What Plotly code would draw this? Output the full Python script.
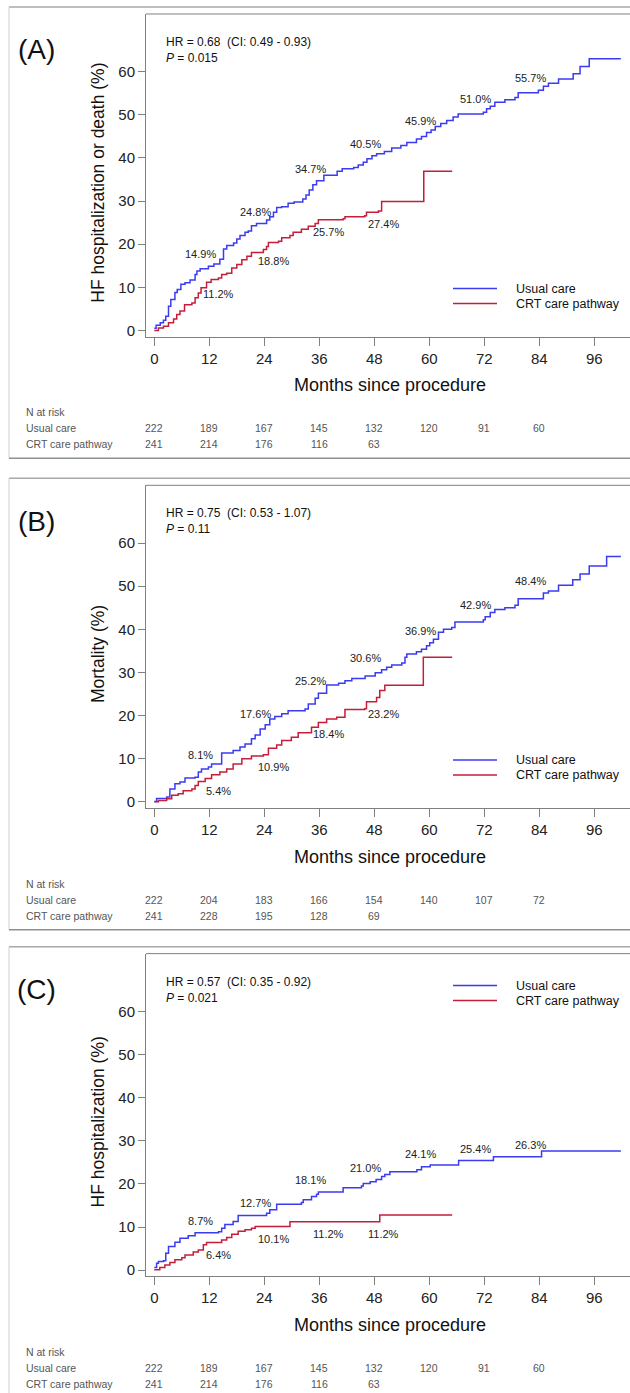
import plotly.graph_objects as go

W, H = 630, 1393

# ---------------- DATA ----------------
month_ticks = [0, 12, 24, 36, 48, 60, 72, 84, 96]
y_ticks = [0, 10, 20, 30, 40, 50, 60]
series_names = ["Usual care", "CRT care pathway"]
panel_letters = ["(A)", "(B)", "(C)"]
y_titles = ["HF hospitalization or death (%)", "Mortality (%)", "HF hospitalization (%)"]
hr_texts = ["HR = 0.68  (CI: 0.49 - 0.93)", "HR = 0.75  (CI: 0.53 - 1.07)", "HR = 0.57  (CI: 0.35 - 0.92)"]
p_texts = ["0.015", "0.11", "0.021"]

# Panel A: HF hospitalization or death
a_usual_t = [0, 0.4, 1.3, 2.0, 2.5, 3.1, 3.6, 4.5, 5.0, 5.8, 6.7, 7.8, 8.9, 9.3, 10.0, 11.8, 13.0, 14.3, 15.1,
             15.8, 17.3, 18.0, 18.7, 19.8, 20.5, 21.2, 22.3, 24.5, 25.2, 26.0, 26.7, 27.8, 29.2, 30.5, 32.4, 33.1,
             33.8, 34.6, 35.4, 37.0, 39.9, 41.0, 43.5, 44.5, 45.6, 46.4, 47.5, 48.5, 50.2, 51.8, 53.8, 55.1, 57.2,
             58.3, 59.4, 60.4, 61.3, 62.5, 63.8, 65.2, 66.3, 71.8, 72.5, 73.3, 74.3, 76.5, 78.7, 79.4, 83.8, 84.9,
             86.0, 88.2, 91.4, 92.9, 94.9, 101.8]
a_usual_v = [0.5, 1.2, 1.8, 2.4, 3.3, 5.6, 7.2, 8.8, 9.5, 10.7, 11.1, 11.7, 13.0, 13.8, 14.3, 14.9, 15.4, 16.5, 18.9,
             19.7, 20.3, 21.2, 22.0, 22.8, 23.1, 24.3, 24.8, 25.6, 26.4, 27.4, 28.5, 28.7, 29.5, 29.8, 30.5, 31.4,
             32.6, 33.8, 34.7, 36.0, 36.9, 37.5, 37.8, 38.4, 39.0, 39.8, 40.5, 41.0, 41.5, 42.3, 42.9, 43.6, 44.4,
             45.0, 45.9, 46.5, 47.3, 48.0, 48.7, 49.5, 50.2, 50.6, 51.4, 52.0, 52.9, 53.5, 54.0, 55.1, 55.7, 56.6,
             57.3, 58.3, 59.5, 61.2, 63.0, 63.0]
a_crt_t = [0, 0.9, 2.0, 3.1, 4.2, 4.9, 5.6, 6.6, 8.2, 8.9, 9.6, 10.2, 11.4, 12.4, 14.0, 14.7, 15.8, 16.9, 18.0,
           19.1, 20.2, 21.2, 23.8, 24.5, 24.9, 27.1, 27.8, 29.6, 30.3, 32.1, 33.6, 35.1, 35.8, 41.2, 41.6, 45.9,
           46.3, 48.9, 49.6, 58.8, 65.0]
a_crt_v = [0.0, 0.6, 1.0, 1.8, 2.7, 3.7, 4.5, 6.0, 6.4, 7.6, 8.7, 9.9, 11.2, 11.8, 12.2, 13.0, 13.3, 14.5, 15.3,
           16.4, 17.2, 18.1, 18.8, 19.5, 20.4, 20.7, 21.5, 22.0, 22.8, 23.5, 24.2, 24.8, 25.7, 25.9, 26.4, 26.6,
           27.4, 27.7, 29.9, 36.9, 36.9]
a_usual_lab_t = [12, 24, 36, 48, 60, 72, 84]
a_usual_lab = [14.9, 24.8, 34.7, 40.5, 45.9, 51.0, 55.7]
a_crt_lab_t = [12, 24, 36, 48]
a_crt_lab = [11.2, 18.8, 25.7, 27.4]
a_risk_usual = [222, 189, 167, 145, 132, 120, 91, 60]
a_risk_crt = [241, 214, 176, 116, 63]

# Panel B: Mortality
b_usual_t = [0, 0.5, 2.7, 3.4, 4.5, 5.6, 6.7, 8.9, 9.6, 10.3, 11.8, 12.5, 14.7, 17.2, 18.7, 19.8, 21.2, 22.0,
             23.1, 24.2, 25.2, 26.3, 27.8, 29.2, 32.9, 33.6, 35.1, 35.8, 37.6, 40.2, 41.6, 43.1, 46.0, 48.2, 49.6,
             50.7, 51.8, 54.0, 54.7, 55.1, 57.2, 58.3, 59.4, 60.1, 60.9, 62.0, 63.1, 64.9, 65.6, 71.8, 72.2, 73.3,
             74.3, 76.5, 78.7, 79.4, 84.9, 86.0, 88.2, 91.3, 92.9, 94.9, 98.7, 101.8]
b_usual_v = [0.1, 0.8, 1.1, 3.0, 4.2, 4.6, 5.5, 5.7, 6.9, 7.6, 8.1, 8.8, 11.3, 11.9, 12.7, 13.4, 14.6, 15.5,
             16.9, 17.9, 19.2, 19.8, 20.4, 21.1, 21.5, 22.7, 24.0, 25.2, 27.1, 27.5, 28.1, 28.6, 29.2, 29.9, 30.6,
             31.2, 31.7, 32.2, 33.5, 34.3, 34.8, 35.4, 36.2, 36.9, 37.7, 39.3, 40.0, 40.4, 41.7, 42.2, 42.9, 43.9,
             44.6, 45.0, 45.6, 47.1, 48.4, 48.9, 50.2, 51.5, 52.8, 54.7, 56.9, 56.9]
b_crt_t = [0, 0.9, 2.7, 3.8, 5.2, 6.3, 8.2, 8.9, 9.6, 11.1, 12.5, 14.3, 15.8, 17.2, 19.1, 21.2, 23.8, 24.9, 26.7,
           27.8, 29.9, 31.4, 34.3, 35.8, 37.6, 39.8, 41.6, 45.9, 46.3, 48.5, 49.2, 50.3, 58.7, 65.0]
b_crt_v = [0.0, 0.3, 0.7, 1.5, 1.9, 2.6, 3.0, 3.8, 4.7, 5.4, 6.3, 6.9, 7.6, 8.8, 10.0, 10.6, 10.9, 12.4, 13.2,
           14.2, 15.0, 16.0, 17.3, 18.4, 19.2, 19.6, 21.4, 21.6, 23.2, 24.2, 25.8, 27.0, 33.5, 33.5]
b_usual_lab_t = [12, 24, 36, 48, 60, 72, 84]
b_usual_lab = [8.1, 17.6, 25.2, 30.6, 36.9, 42.9, 48.4]
b_crt_lab_t = [12, 24, 36, 48]
b_crt_lab = [5.4, 10.9, 18.4, 23.2]
b_risk_usual = [222, 204, 183, 166, 154, 140, 107, 72]
b_risk_crt = [241, 228, 195, 128, 69]

# Panel C: HF hospitalization
c_usual_t = [0, 0.5, 0.9, 2.0, 2.5, 3.1, 4.5, 5.6, 7.4, 8.9, 14.0, 14.7, 15.4, 17.2, 18.3, 24.5, 25.2, 26.7, 32.1,
             32.5, 34.3, 35.4, 35.8, 41.2, 45.2, 45.6, 47.1, 48.4, 49.6, 50.3, 51.4, 57.3, 58.3, 60.2, 66.4, 74.0,
             84.5, 101.8]
c_usual_v = [0.6, 1.6, 2.0, 2.2, 3.9, 5.5, 6.5, 7.4, 8.0, 8.7, 8.9, 9.7, 10.6, 11.3, 12.7, 13.2, 14.0, 15.3, 15.7,
             16.3, 17.1, 17.6, 18.1, 19.1, 19.5, 20.1, 20.5, 21.0, 21.7, 22.2, 22.8, 23.3, 24.0, 24.4, 25.4, 26.3,
             27.6, 27.6]
c_crt_t = [0, 1.2, 2.3, 3.4, 4.5, 6.0, 6.7, 8.5, 9.6, 10.7, 11.4, 14.7, 15.8, 16.9, 18.3, 19.8, 21.2, 22.0, 29.6,
           49.2, 65.0]
c_crt_v = [0.1, 0.6, 1.2, 1.8, 2.4, 2.9, 3.5, 4.2, 4.7, 5.9, 6.4, 7.0, 7.6, 8.3, 9.0, 9.4, 9.7, 10.1, 11.2,
           12.8, 12.8]
c_usual_lab_t = [12, 24, 36, 48, 60, 72, 84]
c_usual_lab = [8.7, 12.7, 18.1, 21.0, 24.1, 25.4, 26.3]
c_crt_lab_t = [12, 24, 36, 48]
c_crt_lab = [6.4, 10.1, 11.2, 11.2]
c_risk_usual = [222, 189, 167, 145, 132, 120, 91, 60]
c_risk_crt = [241, 214, 176, 116, 63]

# ---------------- STYLE / LAYOUT ----------------
BLUE = "#3b3bf0"
RED = "#c41e3a"
AXC = "#808080"
FONT = "Liberation Sans, Arial, sans-serif"

panels = [
    dict(ut=a_usual_t, uv=a_usual_v, ct=a_crt_t, cv=a_crt_v, ult=a_usual_lab_t, ul=a_usual_lab,
         clt=a_crt_lab_t, cl=a_crt_lab, ru=a_risk_usual, rc=a_risk_crt, legend_top=False),
    dict(ut=b_usual_t, uv=b_usual_v, ct=b_crt_t, cv=b_crt_v, ult=b_usual_lab_t, ul=b_usual_lab,
         clt=b_crt_lab_t, cl=b_crt_lab, ru=b_risk_usual, rc=b_risk_crt, legend_top=False),
    dict(ut=c_usual_t, uv=c_usual_v, ct=c_crt_t, cv=c_crt_v, ult=c_usual_lab_t, ul=c_usual_lab,
         clt=c_crt_lab_t, cl=c_crt_lab, ru=c_risk_usual, rc=c_risk_crt, legend_top=True),
]
offsets = [0, 472, 941]


def px(x):
    return x / W


def py(y):
    return 1 - y / H


fig = go.Figure()
annotations = []
shapes = []
layout_axes = {}

PLOT_L, PLOT_R = 146, 630
PLOT_T, PLOT_B = 14, 337
Y0_PIX = 331
PX_PER_UNIT_Y = 4.32
Y_MIN = (Y0_PIX - PLOT_B) / PX_PER_UNIT_Y
Y_MAX = (Y0_PIX - PLOT_T) / PX_PER_UNIT_Y
X0_PIX = 154.3
PX_PER_MONTH = 4.583
X_MIN = (PLOT_L - X0_PIX) / PX_PER_MONTH
X_MAX = (PLOT_R - X0_PIX) / PX_PER_MONTH


def xpix_of_month(m):
    return X0_PIX + m * PX_PER_MONTH


def ann(text, x, y, size, color="#111", xanchor="center", **kw):
    d = dict(text=text, x=px(x), y=py(y), xref="paper", yref="paper", xanchor=xanchor, yanchor="middle",
             showarrow=False, font=dict(size=size, color=color, family=FONT))
    d.update(kw)
    annotations.append(d)


for i, p in enumerate(panels):
    dy = offsets[i]
    sfx = "" if i == 0 else str(i + 1)
    xa, ya = "x" + sfx, "y" + sfx

    fig.add_trace(go.Scatter(x=p["ut"], y=p["uv"], mode="lines", line=dict(color=BLUE, width=1.5, shape="hv"),
                             xaxis=xa, yaxis=ya, showlegend=False, hoverinfo="skip"))
    fig.add_trace(go.Scatter(x=p["ct"], y=p["cv"], mode="lines", line=dict(color=RED, width=1.5, shape="hv"),
                             xaxis=xa, yaxis=ya, showlegend=False, hoverinfo="skip"))

    layout_axes["xaxis" + sfx] = dict(
        domain=[px(PLOT_L), px(PLOT_R)], range=[X_MIN, X_MAX], anchor=ya,
        tickmode="array", tickvals=month_ticks, ticks="outside", ticklen=8, tickcolor=AXC,
        showline=True, linecolor=AXC, linewidth=1, mirror=False, showgrid=False, zeroline=False,
        tickfont=dict(size=15, color="#222", family=FONT),
    )
    layout_axes["yaxis" + sfx] = dict(
        domain=[py(PLOT_B + dy), py(PLOT_T + dy)], range=[Y_MIN, Y_MAX], anchor=xa,
        tickmode="array", tickvals=y_ticks, ticks="outside", ticklen=7, tickcolor=AXC,
        showline=True, linecolor=AXC, linewidth=1, showgrid=False, zeroline=False,
        tickfont=dict(size=15, color="#222", family=FONT),
    )
    # top border of plot box
    shapes.append(dict(type="line", xref="paper", yref="paper", x0=px(PLOT_L), x1=px(PLOT_R),
                       y0=py(PLOT_T + dy), y1=py(PLOT_T + dy), line=dict(color=AXC, width=1)))
    # outer panel frame
    shapes.append(dict(type="line", xref="paper", yref="paper", x0=px(9), x1=1,
                       y0=py(7 + dy), y1=py(7 + dy), line=dict(color="#a8a8a8", width=1.5)))
    shapes.append(dict(type="line", xref="paper", yref="paper", x0=px(9), x1=px(9),
                       y0=py(7 + dy), y1=py(min(459 + dy, H + 5)), line=dict(color="#d0d0d0", width=1)))
    if i < 2:
        shapes.append(dict(type="line", xref="paper", yref="paper", x0=px(9), x1=1,
                           y0=py(459 + dy), y1=py(459 + dy), line=dict(color="#909090", width=1.5)))

    ann(panel_letters[i], 36, 50 + dy, 28)
    ann(y_titles[i], 98, 183 + dy, 17.5, textangle=-90)
    ann("Months since procedure", 390, 386 + dy, 18)
    ann(hr_texts[i], 164, 42 + dy, 12, xanchor="left")
    ann("<i>P</i> = " + p_texts[i], 164, 58 + dy, 12, xanchor="left")

    # percentage labels on curves
    for t, v in zip(p["ult"], p["ul"]):
        annotations.append(dict(text=f"{v:.1f}%", x=t - 2, y=v, xref=xa, yref=ya, yshift=12,
                                xanchor="center", yanchor="middle",
                                showarrow=False, font=dict(size=11, color="#222", family=FONT)))
    for t, v in zip(p["clt"], p["cl"]):
        annotations.append(dict(text=f"{v:.1f}%", x=t + 2, y=v, xref=xa, yref=ya, yshift=-12,
                                xanchor="center", yanchor="middle",
                                showarrow=False, font=dict(size=11, color="#222", family=FONT)))
    # legend
    ly = (987 - 941) if p["legend_top"] else 289
    for k, (name, col) in enumerate(zip(series_names, [BLUE, RED])):
        yy = ly + dy + k * 15
        shapes.append(dict(type="line", xref="paper", yref="paper", x0=px(453), x1=px(497),
                           y0=py(yy), y1=py(yy), line=dict(color=col, width=1.5)))
        ann(name, 514, yy, 12.5, xanchor="left")
    # number at risk table
    ann("N at risk", 24, 413 + dy, 10.5, color="#555", xanchor="left")
    for k, (name, row) in enumerate(zip(series_names, [p["ru"], p["rc"]])):
        yy = 429 + dy + k * 16
        ann(name, 24, yy, 10.5, color="#555", xanchor="left")
        for m, n in zip(month_ticks, row):
            ann(str(n), xpix_of_month(m), yy, 10.5, color="#555")

fig.update_layout(
    width=W, height=H, autosize=False,
    margin=dict(l=0, r=0, t=0, b=0),
    paper_bgcolor="white", plot_bgcolor="white",
    font=dict(family=FONT),
    annotations=annotations, shapes=shapes,
    **layout_axes,
)

fig.write_html("out.html", config={"displayModeBar": False},
               post_script="document.body.style.margin='0px';")
